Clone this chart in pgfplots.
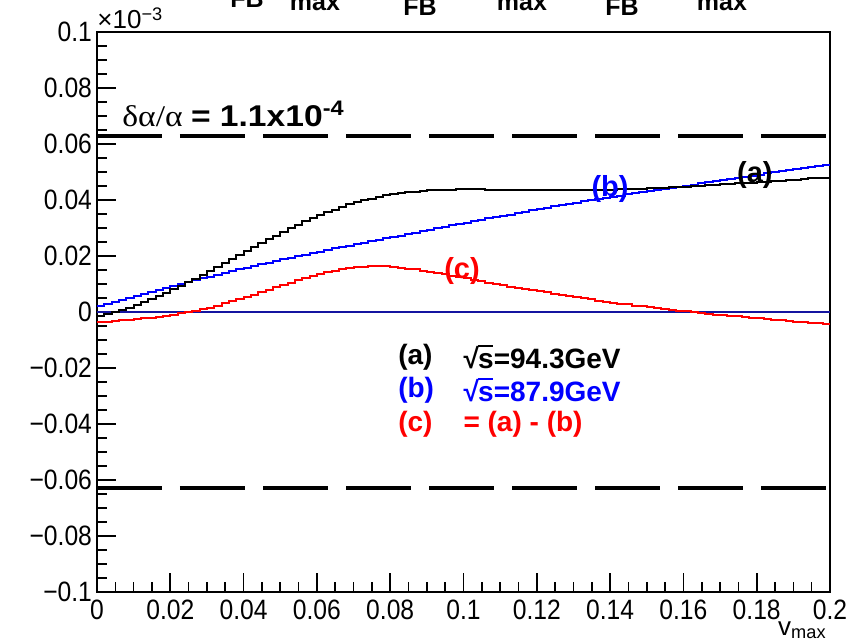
\documentclass[border=0pt]{standalone}
\usepackage{fontspec}
\setmainfont{Liberation Sans}
\newfontfamily\greekf[FakeStretch=1.12]{Liberation Serif}
\newfontfamily\widef[FakeStretch=1.12]{Liberation Sans}
\newfontfamily\tickf[FakeStretch=0.88]{Liberation Sans}
\usepackage{pgfplots}
\pgfplotsset{compat=1.18}
\usepackage{pgfplotstable}

% 100 bins of width 0.002 in v_max (left bin edge, then bin contents in units of 1e-3)
% a: sqrt(s)=94.3 GeV, b: sqrt(s)=87.9 GeV, c: difference (a)-(b)
\pgfplotstableread{
x      a        b       c
0.000  -0.0016  0.0021  -0.0037
0.002  -0.0008  0.0028  -0.0035
0.004  -0.0001  0.0036  -0.0033
0.006   0.0007  0.0043  -0.0030
0.008   0.0015  0.0050  -0.0028
0.010   0.0025  0.0058  -0.0026
0.012   0.0036  0.0065  -0.0023
0.014   0.0047  0.0072  -0.0020
0.016   0.0058  0.0079  -0.0017
0.018   0.0069  0.0086  -0.0014
0.020   0.0081  0.0093  -0.0010
0.022   0.0094  0.0100  -0.0005
0.024   0.0107  0.0107   0.0000
0.026   0.0119  0.0113   0.0005
0.028   0.0132  0.0120   0.0010
0.030   0.0145  0.0126   0.0016
0.032   0.0160  0.0133   0.0023
0.034   0.0174  0.0139   0.0031
0.036   0.0188  0.0145   0.0038
0.038   0.0203  0.0152   0.0045
0.040   0.0217  0.0158   0.0053
0.042   0.0231  0.0164   0.0062
0.044   0.0245  0.0170   0.0071
0.046   0.0259  0.0176   0.0080
0.048   0.0273  0.0182   0.0089
0.050   0.0286  0.0188   0.0097
0.052   0.0299  0.0193   0.0105
0.054   0.0312  0.0199   0.0113
0.056   0.0324  0.0205   0.0121
0.058   0.0337  0.0210   0.0129
0.060   0.0348  0.0216   0.0136
0.062   0.0357  0.0221   0.0142
0.064   0.0366  0.0227   0.0148
0.066   0.0375  0.0232   0.0153
0.068   0.0384  0.0237   0.0157
0.070   0.0392  0.0243   0.0160
0.072   0.0399  0.0248   0.0162
0.074   0.0405  0.0253   0.0164
0.076   0.0411  0.0258   0.0164
0.078   0.0418  0.0263   0.0163
0.080   0.0422  0.0268   0.0161
0.082   0.0425  0.0273   0.0158
0.084   0.0428  0.0278   0.0155
0.086   0.0430  0.0283   0.0152
0.088   0.0433  0.0288   0.0148
0.090   0.0434  0.0294   0.0144
0.092   0.0435  0.0299   0.0139
0.094   0.0436  0.0304   0.0134
0.096   0.0437  0.0309   0.0129
0.098   0.0438  0.0314   0.0124
0.100   0.0438  0.0319   0.0120
0.102   0.0438  0.0324   0.0115
0.104   0.0438  0.0329   0.0110
0.106   0.0437  0.0334   0.0105
0.108   0.0437  0.0339   0.0100
0.110   0.0437  0.0343   0.0096
0.112   0.0436  0.0348   0.0091
0.114   0.0436  0.0353   0.0087
0.116   0.0436  0.0358   0.0083
0.118   0.0435  0.0363   0.0078
0.120   0.0435  0.0367   0.0074
0.122   0.0435  0.0372   0.0070
0.124   0.0435  0.0377   0.0066
0.126   0.0435  0.0381   0.0061
0.128   0.0435  0.0386   0.0057
0.130   0.0435  0.0390   0.0053
0.132   0.0436  0.0395   0.0049
0.134   0.0436  0.0399   0.0045
0.136   0.0436  0.0403   0.0041
0.138   0.0437  0.0408   0.0037
0.140   0.0437  0.0412   0.0033
0.142   0.0438  0.0416   0.0030
0.144   0.0439  0.0420   0.0027
0.146   0.0440  0.0424   0.0023
0.148   0.0441  0.0428   0.0020
0.150   0.0442  0.0432   0.0017
0.152   0.0443  0.0436   0.0014
0.154   0.0444  0.0440   0.0011
0.156   0.0445  0.0443   0.0008
0.158   0.0446  0.0447   0.0005
0.160   0.0448  0.0451   0.0002
0.162   0.0449  0.0455  -0.0001
0.164   0.0451  0.0459  -0.0004
0.166   0.0453  0.0463  -0.0006
0.168   0.0454  0.0467  -0.0009
0.170   0.0456  0.0471  -0.0011
0.172   0.0457  0.0475  -0.0014
0.174   0.0459  0.0479  -0.0016
0.176   0.0461  0.0483  -0.0018
0.178   0.0462  0.0487  -0.0021
0.180   0.0464  0.0491  -0.0023
0.182   0.0466  0.0495  -0.0025
0.184   0.0468  0.0499  -0.0028
0.186   0.0469  0.0502  -0.0030
0.188   0.0471  0.0506  -0.0032
0.190   0.0473  0.0510  -0.0034
0.192   0.0475  0.0514  -0.0036
0.194   0.0477  0.0518  -0.0039
0.196   0.0478  0.0521  -0.0041
0.198   0.0480  0.0525  -0.0043
0.200   0.0480  0.0525  -0.0043
}\histdata

\definecolor{rootblue}{RGB}{0,0,255}
\definecolor{rootred}{RGB}{255,0,0}
\definecolor{zeroline}{RGB}{20,20,160}

% square root with a bar over its argument
\newcommand{\sqrts}{√\kern-0.35pt\makebox[0pt][l]{\rule[0.76em]{0.52em}{0.075em}}s}

\begin{document}
\begin{tikzpicture}
\path[use as bounding box] (-48.5pt,-25.5pt) rectangle (379.5pt,296pt);
\begin{axis}[
  at={(0,0)}, anchor=south west,
  width=366.5pt, height=280pt, scale only axis,
  xmin=0, xmax=0.2, ymin=-0.1, ymax=0.1,
  axis line style={line width=1pt},
  tick pos=left,
  tick align=inside,
  xtick={0,0.02,0.04,0.06,0.08,0.1,0.12,0.14,0.16,0.18,0.2},
  xticklabels={0,0.02,0.04,0.06,0.08,0.1,0.12,0.14,0.16,0.18,0.2},
  ytick={-0.1,-0.08,-0.06,-0.04,-0.02,0,0.02,0.04,0.06,0.08,0.1},
  yticklabels={−0.1,−0.08,−0.06,−0.04,−0.02,0,0.02,0.04,0.06,0.08,0.1},
  minor x tick num=3, minor y tick num=3,
  major tick length=9.5pt, minor tick length=5pt,
  tick style={black, line width=0.8pt},
  ticklabel style={font=\tickf\fontsize{14}{14}\selectfont},
  xticklabel style={yshift=-0.5pt},
  yticklabel style={xshift=1pt},
  scaled ticks=false,
  clip=true,
]
% limits corresponding to delta alpha / alpha
\addplot[black, line width=2pt, dash pattern=on 32.5pt off 9pt] coordinates {(0,0.063) (0.2,0.063)};
\addplot[black, line width=2pt, dash pattern=on 32.5pt off 9pt] coordinates {(0,-0.063) (0.2,-0.063)};
% zero line
\addplot[zeroline, line width=0.8pt] coordinates {(0,0) (0.2,0)};
% histograms
\addplot[const plot, rootblue, line width=1pt] table[x=x, y=b] {\histdata};
\addplot[const plot, black, line width=1pt] table[x=x, y=a] {\histdata};
\addplot[const plot, rootred, line width=1pt] table[x=x, y=c] {\histdata};

\node[anchor=base west, inner sep=0pt, font=\fontsize{15}{15}\selectfont] at (axis cs:0.0068,0.0664)
  {{\greekf δα/α} {\widef\bfseries = 1.1x10\textsuperscript{-4}}};

\node[font=\bfseries\fontsize{14.5}{14.5}\selectfont, black] at (axis cs:0.1795,0.0489) {(a)};
\node[font=\bfseries\fontsize{14.5}{14.5}\selectfont, rootblue] at (axis cs:0.140,0.0440) {(b)};
\node[font=\bfseries\fontsize{14.5}{14.5}\selectfont, rootred] at (axis cs:0.0996,0.0146) {(c)};

\begin{scope}[every node/.style={anchor=west, inner sep=0pt, font=\bfseries\fontsize{14}{14}\selectfont}]
\node[black] at (axis cs:0.0821,-0.0161) {(a)};
\node[black] at (axis cs:0.0999,-0.0161) {\sqrts=94.3GeV};
\node[rootblue] at (axis cs:0.0821,-0.0279) {(b)};
\node[rootblue] at (axis cs:0.0999,-0.0279) {\sqrts=87.9GeV};
\node[rootred] at (axis cs:0.0821,-0.0400) {(c)};
\node[rootred] at (axis cs:0.0999,-0.0400) {= (a) - (b)};
\end{scope}
\end{axis}

% exponent of the y axis
\node[anchor=base west, inner sep=0pt, font=\fontsize{13}{13}\selectfont] at (0pt,281.5pt) {×10\textsuperscript{−3}};
% x axis title
\node[anchor=north east, inner sep=0pt, font=\fontsize{13}{13}\selectfont] at (365pt,-14.5pt) {v\textsubscript{max}};
% lower edge of the title line
\begin{scope}[every node/.style={anchor=south, inner sep=0pt, font=\bfseries\fontsize{12.5}{12.5}\selectfont}]
\node at (75pt,292pt) {FB};
\node at (109pt,290.5pt) {max};
\node at (161.5pt,288pt) {FB};
\node at (212.5pt,290.5pt) {max};
\node at (262.5pt,288pt) {FB};
\node at (312.5pt,290.5pt) {max};
\end{scope}
\end{tikzpicture}
\end{document}
